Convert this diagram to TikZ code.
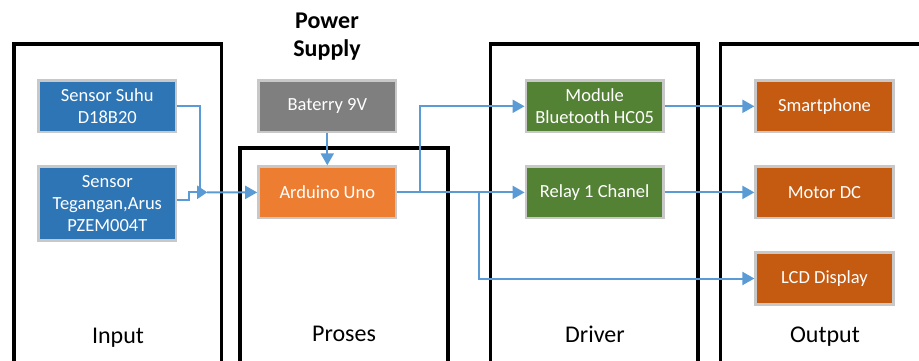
\documentclass[tikz,border=0pt]{standalone}
\usepackage{fontspec}
\setmainfont{Carlito}
\usepackage{xcolor}
\usepackage{tikz}
\usetikzlibrary{arrows.meta,positioning}
\definecolor{inblue}{RGB}{46,117,182}
\definecolor{batgray}{RGB}{127,127,127}
\definecolor{unoorange}{RGB}{237,125,49}
\definecolor{drvgreen}{RGB}{84,130,53}
\definecolor{outorange}{RGB}{197,90,17}
\definecolor{rim}{RGB}{200,200,200}
\definecolor{wire}{RGB}{91,155,213}

\begin{document}
\begin{tikzpicture}[x=1pt, y=-1pt, node distance=32pt, every node/.style={font=\fontsize{18.5}{22.3}\selectfont}, box/.style={draw=rim,line width=2.7pt,text=white,minimum width=137.5pt,minimum height=51.4pt,inner sep=2pt,align=center}, zone/.style={line width=3.3pt}, lbl/.style={font=\fontsize{24}{28}\selectfont}, arr/.style={-{Triangle[length=12pt,width=13pt]},line width=2pt,wire}, mergearr/.style={-{Triangle[length=10pt,width=13pt]},line width=2pt,wire}]
\clip (0,0) rectangle (919,360);
\draw[zone] (14,44) rectangle (221.5,380);
\draw[zone] (240,148) rectangle (448,380);
\draw[zone] (490.7,44) rectangle (698,380);
\draw[zone] (720.7,44) rectangle (935,380);
\node[font=\bfseries\fontsize{24}{28}\selectfont,align=center] (psu) at (327,37) {Power\\Supply};
\node[box,fill=inblue] (suhu) at (107.3,106.3) {Sensor Suhu\\D18B20};
\node[box,fill=inblue,minimum height=73.5pt,below=of suhu] (tegangan) {Sensor\\Tegangan,Arus\\PZEM004T};
\node[box,fill=batgray] (baterry) at (327.3,106.3) {Baterry 9V};
\node[box,fill=unoorange,below=of baterry] (uno) {Arduino Uno};
\node[box,fill=drvgreen] (bt) at (594.7,106.3) {Module\\Bluetooth HC05};
\node[box,fill=drvgreen,below=of bt] (relay) {Relay 1 Chanel};
\node[box,fill=outorange] (phone) at (824.5,106.3) {Smartphone};
\node[box,fill=outorange,below=of phone] (motor) {Motor DC};
\node[box,fill=outorange,below=of motor] (lcd) {LCD Display};
\node[lbl] (inlbl) at (118,338) {Input};
\node[lbl] (proslbl) at (344,334) {Proses};
\node[lbl] (drvlbl) at (595,334) {Driver};
\node[lbl] (outlbl) at (825,337) {Output};
\coordinate (mrg) at (207,192.3);
\draw[mergearr] (suhu.east) -- ++(23,0) |- (mrg);
\draw[mergearr] ([yshift=3pt]tegangan.east) -- ++(12,0) |- (mrg);
\draw[arr] (mrg) -- (uno.west);
\draw[arr] (baterry) -- (uno);
\draw[arr] (uno.east) -- (relay.west);
\draw[arr] (uno.east) -- ++(23,0) |- (bt.west);
\draw[arr] (uno.east) -- ++(82,0) |- (lcd.west);
\draw[arr] (bt) -- (phone);
\draw[arr] (relay) -- (motor);
\end{tikzpicture}
\end{document}
